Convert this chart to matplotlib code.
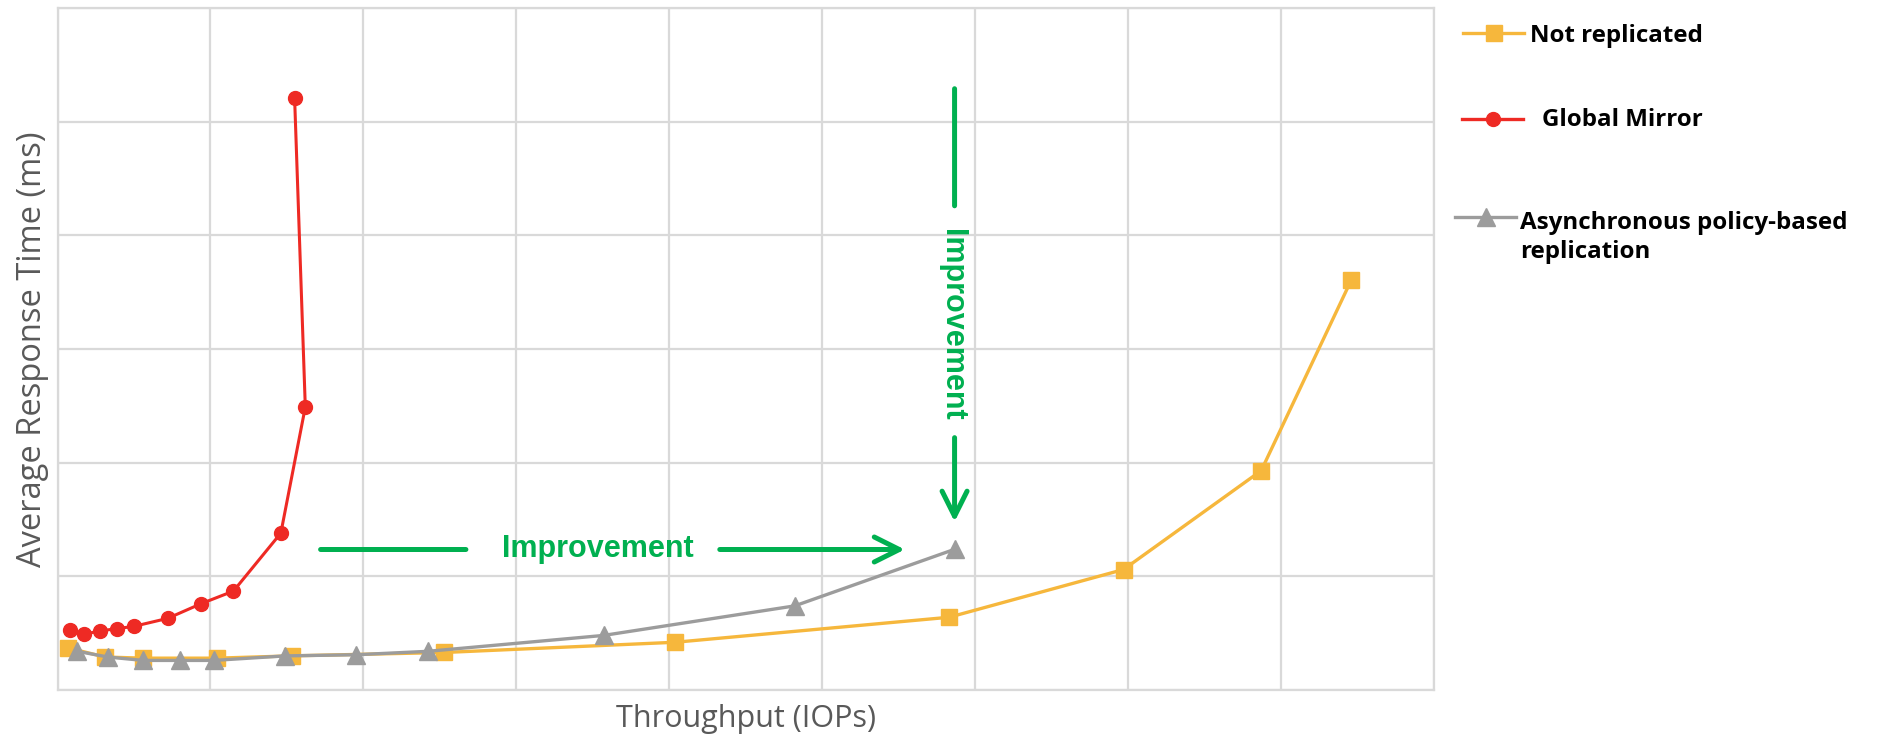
import matplotlib
matplotlib.use("Agg")
import matplotlib.pyplot as plt
from matplotlib.lines import Line2D

# Values, in grid units (the chart shows no numbers)
not_rep_x = [0.07, 0.31, 0.56, 1.04, 1.53, 2.53, 4.04, 5.83, 6.97, 7.87, 8.46]
not_rep_y = [0.37, 0.29, 0.28, 0.28, 0.30, 0.33, 0.42, 0.64, 1.06, 1.93, 3.61]

gm_x = [0.08, 0.17, 0.28, 0.39, 0.50, 0.72, 0.94, 1.15, 1.46, 1.62, 1.55]
gm_y = [0.53, 0.49, 0.52, 0.54, 0.56, 0.63, 0.76, 0.87, 1.38, 2.49, 5.21]

async_x = [0.13, 0.33, 0.56, 0.80, 1.02, 1.49, 1.95, 2.42, 3.57, 4.82, 5.87]
async_y = [0.34, 0.29, 0.26, 0.26, 0.26, 0.30, 0.31, 0.34, 0.48, 0.74, 1.24]

series_labels = ["Not replicated", "Global Mirror",
                 "Asynchronous policy-based\nreplication"]

YELLOW = "#F6B73C"
RED = "#EE2A24"
GRAY = "#9C9C9C"
GREEN = "#00B050"
GRID = "#D9D9D9"

fig = plt.figure(figsize=(18.8, 7.37), dpi=100)
ax = fig.add_axes([0.0306, 0.0638, 0.7322, 0.9253])

ax.plot(not_rep_x, not_rep_y, color=YELLOW, lw=2.4, marker="s", ms=11.5,
        mec=YELLOW, zorder=3)
ax.plot(gm_x, gm_y, color=RED, lw=2.2, marker="o", ms=10, mec=RED, zorder=4)
ax.plot(async_x, async_y, color=GRAY, lw=2.4, marker="^", ms=12.5,
        mec=GRAY, zorder=5)

ax.set_xlim(0, 9)
ax.set_ylim(0, 6)
ax.set_xticks(range(10))
ax.set_yticks(range(7))
ax.tick_params(length=0, labelbottom=False, labelleft=False)
ax.grid(True, color=GRID, lw=1.6)
ax.set_axisbelow(True)
for s in ax.spines.values():
    s.set_color(GRID)
    s.set_linewidth(1.6)

ax.set_xlabel("Throughput (IOPs)", family="Open Sans", fontsize=22,
              color="#595959", labelpad=10)
ax.set_ylabel("Average Response Time (ms)", family="Open Sans", fontsize=23.5,
              color="#595959", labelpad=6)

# "Improvement" call-outs
head = "->,head_length=0.9,head_width=0.45"
ax.annotate("", xy=(2.67, 1.236), xytext=(1.72, 1.236),
            arrowprops=dict(arrowstyle="-", color=GREEN, lw=3.6,
                            shrinkA=0, shrinkB=0))
ax.text(3.53, 1.236, "Improvement", color=GREEN, fontsize=22,
        fontweight="bold", family="Liberation Sans", ha="center", va="center")
ax.annotate("", xy=(5.54, 1.236), xytext=(4.33, 1.236),
            arrowprops=dict(arrowstyle=head, color=GREEN, lw=3.6,
                            mutation_scale=20, shrinkA=0, shrinkB=0))

ax.annotate("", xy=(5.865, 4.26), xytext=(5.865, 5.29),
            arrowprops=dict(arrowstyle="-", color=GREEN, lw=3.6,
                            shrinkA=0, shrinkB=0))
ax.text(5.85, 3.21, "Improvement", color=GREEN, fontsize=22,
        fontweight="bold", family="Liberation Sans", rotation=-90,
        ha="center", va="center")
ax.annotate("", xy=(5.865, 1.48), xytext=(5.865, 2.22),
            arrowprops=dict(arrowstyle=head, color=GREEN, lw=3.6,
                            mutation_scale=20, shrinkA=0, shrinkB=0))

# legend drawn by hand to keep the uneven spacing of the original
# (text y is the baseline of the last line)
W, H = 1880, 737
keys = [
    (1463, 1524, 33, YELLOW, "s", 11.5, 1530, 41.7),
    (1462, 1523, 119, RED, "o", 10, 1542, 125.5),
    (1455, 1516, 217, GRAY, "^", 12.5, 1520, 258.5),
]
for (x0, x1, yk, c, m, ms, tx, ty), lab in zip(keys, series_labels):
    fig.add_artist(Line2D([x0 / W, x1 / W], [1 - yk / H, 1 - yk / H],
                          color=c, lw=2.4, transform=fig.transFigure))
    fig.add_artist(Line2D([(x0 + x1) / 2 / W], [1 - yk / H], color=c,
                          marker=m, ms=ms, mec=c, transform=fig.transFigure))
    fig.text(tx / W, 1 - ty / H, lab, fontsize=17.4, fontweight="bold",
             family="Open Sans", va="baseline", ha="left", linespacing=1.32)

fig.savefig("out.png", dpi=100)
